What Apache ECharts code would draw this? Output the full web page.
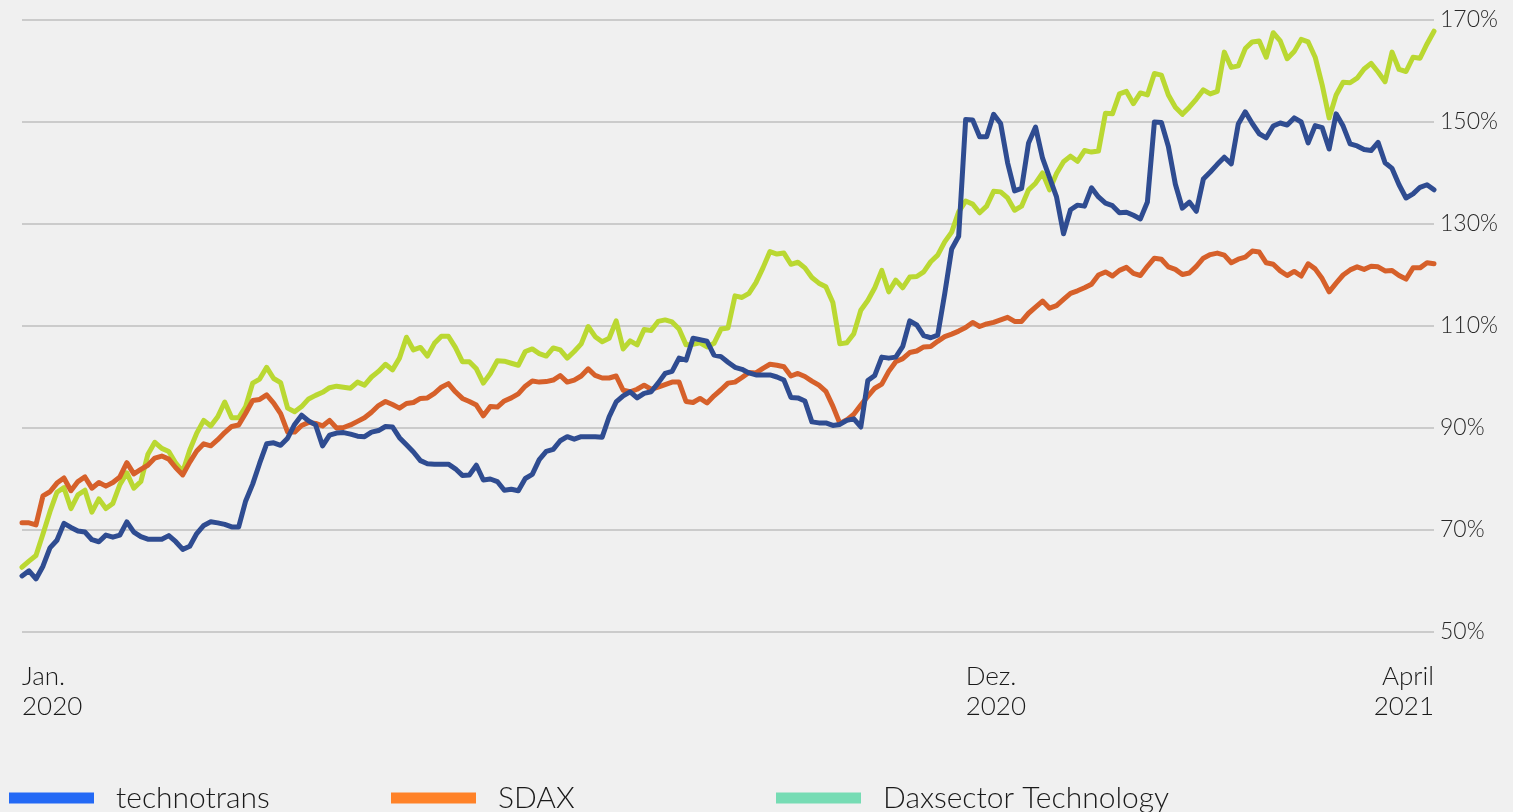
<!DOCTYPE html>
<html lang="de">
<head>
    <meta charset="UTF-8">
    <title>technotrans vs. SDAX vs. Daxsector Technology</title>
    <script src="https://cdn.jsdelivr.net/npm/echarts@6/dist/echarts.min.js"></script>
    <style>
        html, body { margin: 0; padding: 0; background: #f0f0f0; }
        #chart { width: 1513px; height: 812px; }
    </style>
</head>
<body>
    <div id="chart"></div>
    <script>
        // values in % (indexed, start = Jan. 2020)
        var technotrans = [
            61.0, 62.0, 60.4, 62.9, 66.5, 68.0, 71.3, 70.5, 69.8, 69.6,
            68.1, 67.7, 69.0, 68.6, 69.0, 71.6, 69.6, 68.7, 68.2, 68.2,
            68.2, 68.9, 67.7, 66.2, 66.8, 69.3, 70.9, 71.6, 71.4, 71.1,
            70.6, 70.6, 75.7, 79.0, 83.1, 86.9, 87.1, 86.6, 88.0, 90.7,
            92.5, 91.4, 90.6, 86.5, 88.6, 89.0, 89.1, 88.8, 88.4, 88.3,
            89.2, 89.5, 90.3, 90.2, 88.1, 86.7, 85.3, 83.6, 83.0, 82.9,
            82.9, 82.9, 82.0, 80.7, 80.8, 82.7, 79.8, 80.0, 79.5, 77.8,
            78.0, 77.7, 80.1, 80.9, 83.8, 85.4, 85.8, 87.5, 88.3, 87.8,
            88.3, 88.3, 88.3, 88.2, 92.2, 95.1, 96.3, 97.1, 95.9, 96.8,
            97.1, 98.8, 100.7, 101.1, 103.7, 103.3, 107.6, 107.3, 107.0, 104.3,
            104.0, 102.9, 101.9, 101.5, 100.8, 100.4, 100.4, 100.4, 100.0, 99.4,
            96.0, 95.9, 95.3, 91.2, 91.0, 91.0, 90.5, 90.7, 91.5, 91.8,
            90.2, 99.3, 100.3, 103.9, 103.7, 103.9, 106.0, 111.0, 110.2, 108.1,
            107.7, 108.2, 116.3, 125.1, 127.6, 150.5, 150.4, 147.1, 147.1, 151.5,
            149.7, 142.0, 136.5, 137.0, 145.9, 149.0, 142.9, 139.1, 135.3, 128.1,
            132.8, 133.7, 133.5, 137.1, 135.3, 134.1, 133.6, 132.2, 132.3, 131.7,
            131.0, 134.3, 150.0, 149.9, 145.2, 137.8, 133.1, 134.3, 132.5, 138.8,
            140.2, 141.7, 143.1, 141.8, 149.6, 152.0, 149.7, 147.7, 146.9, 149.2,
            149.8, 149.4, 150.8, 150.0, 145.9, 149.3, 148.9, 144.7, 151.6, 149.2,
            145.7, 145.3, 144.6, 144.4, 146.0, 142.0, 140.9, 137.7, 135.1, 135.9,
            137.2, 137.7, 136.7
        ];
        var sdax = [
            71.4, 71.4, 71.0, 76.7, 77.5, 79.2, 80.2, 77.7, 79.5, 80.4,
            78.2, 79.3, 78.6, 79.3, 80.4, 83.2, 81.0, 81.9, 82.7, 84.1,
            84.5, 83.9, 82.2, 80.8, 83.3, 85.5, 86.9, 86.5, 87.7, 89.1,
            90.3, 90.6, 92.9, 95.4, 95.6, 96.5, 94.9, 92.8, 89.2, 89.2,
            90.5, 91.1, 90.9, 90.4, 91.5, 90.0, 90.1, 90.6, 91.3, 92.0,
            93.1, 94.4, 95.2, 94.6, 93.9, 94.8, 95.0, 95.8, 95.9, 96.8,
            98.0, 98.7, 97.1, 95.8, 95.2, 94.5, 92.4, 94.2, 94.1, 95.3,
            95.9, 96.7, 98.2, 99.2, 99.0, 99.1, 99.4, 100.3, 99.0, 99.4,
            100.2, 101.6, 100.3, 99.8, 99.8, 100.2, 97.4, 97.1, 97.6, 98.4,
            97.6, 98.0, 98.5, 99.0, 99.0, 95.2, 95.0, 95.8, 94.9, 96.3,
            97.5, 98.8, 99.0, 99.9, 100.9, 100.8, 101.7, 102.5, 102.3, 102.0,
            100.2, 100.7, 100.1, 99.2, 98.4, 97.2, 94.3, 90.9, 91.6, 92.7,
            94.5, 96.2, 97.8, 98.6, 101.1, 103.0, 103.6, 104.8, 105.1, 105.9,
            106.0, 107.0, 107.9, 108.4, 109.0, 109.7, 110.7, 109.9, 110.4, 110.7,
            111.2, 111.7, 110.9, 110.9, 112.5, 113.7, 114.9, 113.5, 114.0, 115.2,
            116.4, 116.9, 117.5, 118.2, 120.0, 120.6, 119.8, 120.9, 121.5, 120.3,
            119.9, 121.7, 123.3, 123.1, 121.6, 121.1, 120.1, 120.4, 121.7, 123.3,
            124.0, 124.3, 123.9, 122.4, 123.1, 123.5, 124.7, 124.5, 122.4, 122.1,
            120.8, 119.9, 120.7, 119.8, 122.2, 121.2, 119.3, 116.7, 118.4, 120.0,
            121.0, 121.6, 121.1, 121.7, 121.6, 120.8, 120.9, 119.9, 119.2, 121.4,
            121.4, 122.4, 122.2
        ];
        var daxsector = [
            62.7, 63.9, 65.0, 69.2, 73.6, 77.4, 78.3, 74.2, 76.9, 77.8,
            73.5, 76.1, 74.2, 75.2, 78.9, 81.2, 78.2, 79.5, 84.8, 87.2,
            86.0, 85.4, 83.1, 81.4, 85.7, 89.0, 91.5, 90.4, 92.2, 95.1,
            92.0, 92.0, 94.2, 98.8, 99.6, 101.9, 99.7, 98.9, 93.9, 93.2,
            94.2, 95.7, 96.4, 97.0, 97.9, 98.2, 98.0, 97.8, 99.0, 98.4,
            100.0, 101.1, 102.5, 101.4, 103.7, 107.8, 105.3, 105.8, 104.1, 106.6,
            108.0, 108.0, 105.8, 103.0, 103.0, 101.6, 98.8, 100.7, 103.2, 103.1,
            102.7, 102.3, 105.0, 105.5, 104.6, 104.1, 105.7, 105.3, 103.7, 105.0,
            106.5, 109.9, 107.9, 106.9, 107.6, 111.0, 105.5, 107.1, 106.3, 109.3,
            109.1, 110.9, 111.2, 110.8, 109.4, 106.3, 106.4, 106.7, 105.9, 106.6,
            109.4, 109.6, 115.9, 115.6, 116.4, 118.5, 121.4, 124.6, 124.1, 124.3,
            122.1, 122.5, 121.4, 119.5, 118.4, 117.7, 114.6, 106.5, 106.7, 108.5,
            113.1, 115.0, 117.5, 120.9, 116.7, 119.0, 117.5, 119.6, 119.7, 120.6,
            122.6, 123.9, 126.5, 128.4, 132.4, 134.5, 133.9, 132.2, 133.5, 136.4,
            136.3, 135.1, 132.7, 133.5, 136.7, 138.0, 140.0, 136.7, 139.9, 142.2,
            143.3, 142.3, 144.4, 144.1, 144.3, 151.7, 151.6, 155.5, 156.0, 153.6,
            155.7, 155.3, 159.5, 159.2, 155.3, 152.9, 151.5, 152.9, 154.5, 156.3,
            155.5, 156.0, 163.7, 160.7, 161.0, 164.4, 165.7, 165.9, 162.7, 167.5,
            165.9, 162.4, 163.8, 166.2, 165.7, 162.7, 157.3, 150.8, 155.3, 157.8,
            157.7, 158.6, 160.4, 161.5, 159.8, 157.9, 163.7, 160.3, 159.9, 162.7,
            162.5, 165.3, 167.8
        ];

        // x-axis tick labels (index -> text), all other points unlabeled
        var tickLabels = { 0: 'Jan.\n2020', 135: 'Dez.\n2020', 202: 'April\n2021' };
        var categories = technotrans.map(function (v, i) { return tickLabels[i] || ''; });

        var names = ['technotrans', 'SDAX', 'Daxsector Technology'];
        var lineColors = ['#2f4c91', '#d6602a', '#bad832'];
        var legendColors = ['#2369f5', '#ff8228', '#76dcb4'];
        var legendLeft = [4, 386, 771];

        var fontFamily = 'Lato, "Open Sans", sans-serif';

        var legends = names.map(function (n, i) {
            return {
                data: [{ name: n, itemStyle: { color: legendColors[i] } }],
                left: legendLeft[i],
                top: 778,
                icon: 'rect',
                itemWidth: 85,
                itemHeight: 11,
                textStyle: {
                    fontFamily: fontFamily,
                    fontWeight: 300,
                    fontSize: 30,
                    color: '#1a1a1a',
                    padding: [0, 0, 0, 17]
                }
            };
        });

        var seriesData = [technotrans, sdax, daxsector];
        var series = names.map(function (n, i) {
            return {
                name: n,
                type: 'line',
                data: seriesData[i],
                symbol: 'none',
                itemStyle: { color: legendColors[i] },
                lineStyle: { color: lineColors[i], width: 5, join: 'round', cap: 'round' },
                z: 3 - i
            };
        });

        var myChart = echarts.init(document.getElementById('chart'));
        myChart.setOption({
            backgroundColor: '#f0f0f0',
            animation: false,
            grid: { left: 22, right: 79, top: 20, bottom: 180, containLabel: false },
            legend: legends,
            xAxis: {
                type: 'category',
                data: categories,
                boundaryGap: false,
                axisLine: { show: false },
                axisTick: { show: false },
                splitLine: { show: false },
                axisLabel: {
                    interval: function (idx, val) { return val !== ''; },
                    align: 'left',
                    alignMaxLabel: 'right',
                    margin: 30,
                    fontFamily: fontFamily,
                    fontWeight: 300,
                    fontSize: 26,
                    lineHeight: 30,
                    color: '#1a1a1a'
                }
            },
            yAxis: {
                type: 'value',
                position: 'right',
                min: 50,
                max: 170,
                interval: 20,
                axisLine: { show: false },
                axisTick: { show: false },
                splitLine: { lineStyle: { color: '#bfbfbf', width: 1.5 } },
                axisLabel: {
                    formatter: '{value}%',
                    margin: 6,
                    fontFamily: fontFamily,
                    fontWeight: 300,
                    fontSize: 23,
                    color: '#2a2a2a'
                }
            },
            series: series
        });
    </script>
</body>
</html>
